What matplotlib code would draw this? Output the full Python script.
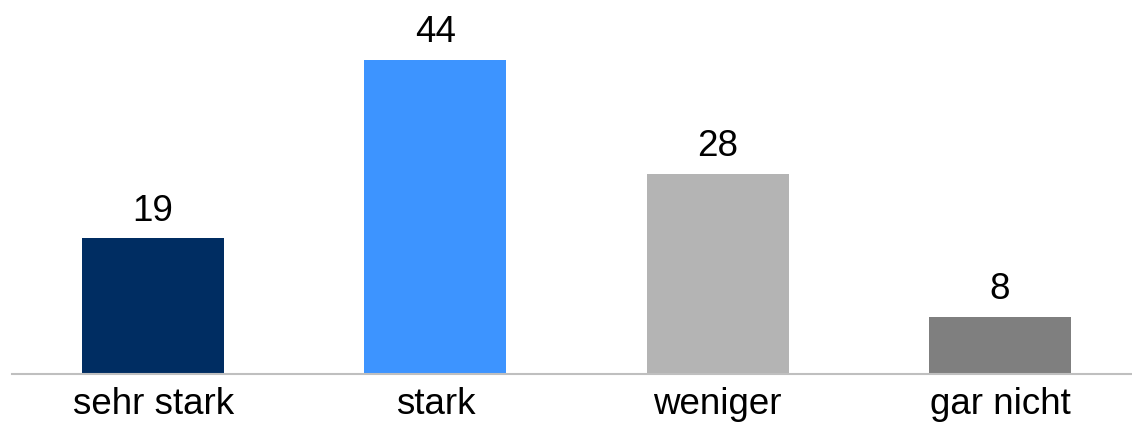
import matplotlib
matplotlib.use('Agg')
import matplotlib.pyplot as plt

categories = ['sehr stark', 'stark', 'weniger', 'gar nicht']
values = [19, 44, 28, 8]
bar_colors = ['#002D62', '#3D94FF', '#B4B4B4', '#7F7F7F']

plt.rcParams['font.family'] = ['Liberation Sans', 'DejaVu Sans']

fig = plt.figure(figsize=(11.32, 4.26), dpi=100, facecolor='white')
ax = fig.add_axes([12 / 1132, 52 / 426, 1120 / 1132, 374 / 426])

x = range(len(categories))
bars = ax.bar(x, values, width=0.503, color=bar_colors)

for b, v in zip(bars, values):
    ax.annotate(str(v), xy=(b.get_x() + b.get_width() / 2, v),
                xytext=(0, 7), textcoords='offset points',
                ha='center', va='bottom', fontsize=26.5, color='black')

ax.set_xlim(-0.5, 3.468)
ax.set_ylim(0, 52.4)
ax.set_xticks(list(x))
ax.set_xticklabels(categories, fontsize=26.5)
ax.tick_params(axis='x', length=0, pad=9)
ax.set_yticks([])

for side in ['top', 'right', 'left']:
    ax.spines[side].set_visible(False)
ax.spines['bottom'].set_color('#BFBFBF')
ax.spines['bottom'].set_linewidth(1.5)

fig.savefig('out.png', dpi=100, facecolor='white')
